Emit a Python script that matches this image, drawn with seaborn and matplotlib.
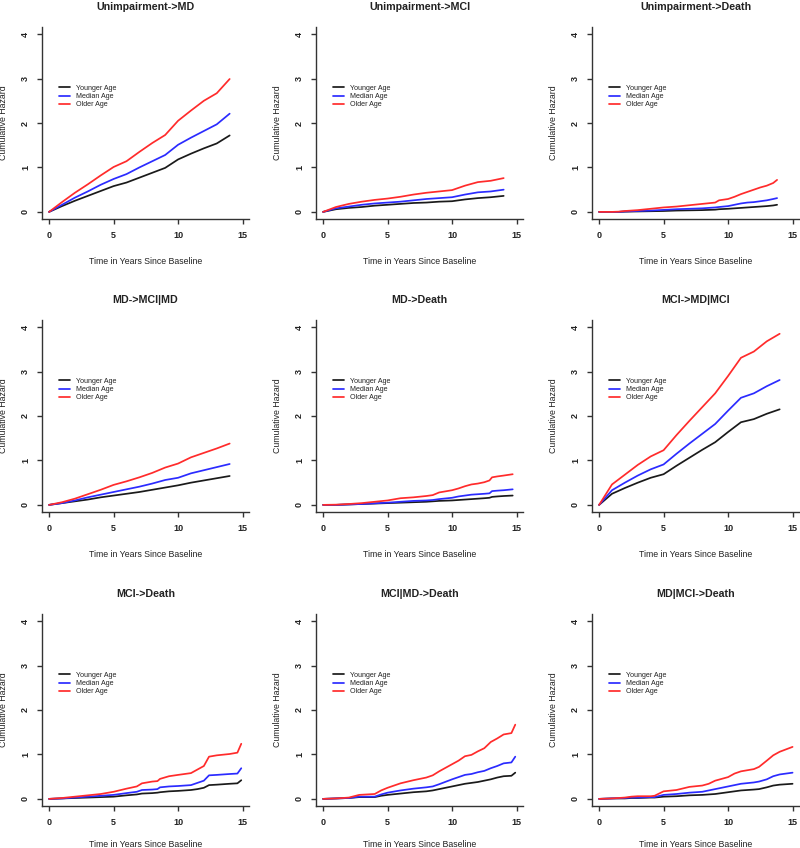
import pandas as pd
import matplotlib
matplotlib.use("Agg")
import matplotlib.pyplot as plt
import seaborn as sns

OUT_PATH = "out.png"

GROUPS = ["Younger Age", "Median Age", "Older Age"]
COLORS = {"Younger Age": "#1a1a1a", "Median Age": "#2b2bff", "Older Age": "#ff2b2b"}

# yearly grid used by the smoother transitions
T_YEARLY = [0, 1, 2, 3, 4, 5, 6, 7, 8, 9, 10, 11, 12, 13, 14]

# Unimpairment -> MD
UMD_YOUNG = [0, 0.13, 0.25, 0.36, 0.47, 0.58, 0.66, 0.77, 0.88, 0.99, 1.18, 1.31, 1.43, 1.54, 1.72]
UMD_MED   = [0, 0.16, 0.32, 0.46, 0.61, 0.74, 0.85, 1.00, 1.14, 1.28, 1.51, 1.67, 1.82, 1.97, 2.21]
UMD_OLD   = [0, 0.22, 0.43, 0.62, 0.82, 1.01, 1.14, 1.35, 1.55, 1.73, 2.05, 2.28, 2.50, 2.67, 2.99]

# Unimpairment -> MCI
UMCI_YOUNG = [0, 0.06, 0.09, 0.11, 0.14, 0.16, 0.18, 0.20, 0.21, 0.23, 0.24, 0.28, 0.31, 0.33, 0.36]
UMCI_MED   = [0, 0.08, 0.12, 0.16, 0.19, 0.21, 0.23, 0.26, 0.29, 0.31, 0.33, 0.39, 0.44, 0.46, 0.50]
UMCI_OLD   = [0, 0.11, 0.18, 0.23, 0.27, 0.30, 0.34, 0.39, 0.43, 0.46, 0.49, 0.59, 0.67, 0.70, 0.76]

# Unimpairment -> Death
T_UDEATH     = [0, 1, 1.5, 2, 3, 4, 5, 6, 7, 8, 9, 9.3, 10, 10.5, 11, 11.5, 12, 12.5, 13, 13.5, 13.8]
UDEATH_YOUNG = [0, 0, 0, 0.005, 0.01, 0.015, 0.02, 0.03, 0.035, 0.04, 0.05, 0.06, 0.07, 0.08, 0.09, 0.10, 0.11, 0.12, 0.13, 0.145, 0.16]
UDEATH_MED   = [0, 0, 0, 0.01, 0.02, 0.03, 0.045, 0.06, 0.07, 0.08, 0.10, 0.11, 0.13, 0.16, 0.19, 0.21, 0.22, 0.24, 0.26, 0.29, 0.31]
UDEATH_OLD   = [0, 0, 0.005, 0.02, 0.04, 0.07, 0.10, 0.12, 0.15, 0.18, 0.21, 0.26, 0.29, 0.34, 0.40, 0.45, 0.50, 0.55, 0.59, 0.65, 0.72]

# MD -> MCI|MD
MDMCI_YOUNG = [0, 0.04, 0.08, 0.12, 0.17, 0.21, 0.25, 0.29, 0.34, 0.39, 0.44, 0.50, 0.55, 0.60, 0.65]
MDMCI_MED   = [0, 0.04, 0.10, 0.17, 0.23, 0.29, 0.35, 0.41, 0.48, 0.56, 0.61, 0.71, 0.78, 0.85, 0.92]
MDMCI_OLD   = [0, 0.06, 0.14, 0.24, 0.34, 0.45, 0.53, 0.62, 0.72, 0.84, 0.93, 1.07, 1.17, 1.27, 1.38]

# MD -> Death
T_MDDEATH     = [0, 1, 2, 3, 4, 5, 6, 7, 8, 8.5, 9, 10, 10.5, 11, 11.5, 12, 12.5, 12.9, 13.1, 13.5, 14, 14.7]
MDDEATH_YOUNG = [0, 0, 0.01, 0.02, 0.03, 0.04, 0.05, 0.06, 0.07, 0.08, 0.09, 0.10, 0.11, 0.12, 0.13, 0.14, 0.15, 0.16, 0.18, 0.19, 0.20, 0.21]
MDDEATH_MED   = [0, 0, 0.01, 0.02, 0.035, 0.05, 0.07, 0.09, 0.10, 0.11, 0.13, 0.16, 0.19, 0.21, 0.23, 0.24, 0.25, 0.26, 0.31, 0.32, 0.33, 0.35]
MDDEATH_OLD   = [0, 0.005, 0.02, 0.04, 0.07, 0.10, 0.15, 0.17, 0.20, 0.22, 0.28, 0.33, 0.37, 0.42, 0.46, 0.48, 0.51, 0.55, 0.62, 0.64, 0.66, 0.69]

# MCI -> MD|MCI
MCIMD_YOUNG = [0, 0.25, 0.38, 0.50, 0.61, 0.69, 0.88, 1.06, 1.24, 1.41, 1.64, 1.86, 1.93, 2.05, 2.15]
MCIMD_MED   = [0, 0.33, 0.50, 0.66, 0.80, 0.91, 1.15, 1.38, 1.60, 1.82, 2.12, 2.41, 2.51, 2.67, 2.81]
MCIMD_OLD   = [0, 0.46, 0.68, 0.90, 1.09, 1.23, 1.57, 1.89, 2.20, 2.51, 2.90, 3.31, 3.45, 3.68, 3.85]

# MCI -> Death
T_MCIDEATH     = [0, 1, 2, 3, 4, 5, 6, 6.8, 7.2, 8, 8.4, 8.6, 9.3, 10, 11, 11.5, 12, 12.4, 13, 14, 14.6, 14.9]
MCIDEATH_YOUNG = [0, 0.01, 0.02, 0.03, 0.04, 0.05, 0.08, 0.10, 0.12, 0.13, 0.14, 0.15, 0.17, 0.18, 0.20, 0.22, 0.25, 0.31, 0.32, 0.34, 0.35, 0.42]
MCIDEATH_MED   = [0, 0.01, 0.03, 0.05, 0.07, 0.09, 0.13, 0.16, 0.20, 0.21, 0.22, 0.26, 0.28, 0.29, 0.31, 0.36, 0.41, 0.53, 0.54, 0.56, 0.57, 0.69]
MCIDEATH_OLD   = [0, 0.02, 0.05, 0.08, 0.11, 0.16, 0.23, 0.28, 0.35, 0.39, 0.40, 0.45, 0.51, 0.54, 0.58, 0.66, 0.74, 0.95, 0.98, 1.01, 1.04, 1.24]

# MCI|MD -> Death
T_MCIMDDEATH     = [0, 1, 2, 2.8, 4, 4.5, 5, 6, 7, 8, 8.5, 9, 10, 10.5, 11, 11.5, 12, 12.5, 13, 13.5, 14, 14.6, 14.9]
MCIMDDEATH_YOUNG = [0, 0.01, 0.02, 0.04, 0.04, 0.07, 0.09, 0.12, 0.15, 0.17, 0.19, 0.22, 0.28, 0.31, 0.34, 0.36, 0.38, 0.41, 0.44, 0.48, 0.51, 0.52, 0.59]
MCIMDDEATH_MED   = [0, 0.01, 0.02, 0.05, 0.05, 0.10, 0.14, 0.19, 0.23, 0.26, 0.28, 0.33, 0.44, 0.49, 0.54, 0.56, 0.60, 0.63, 0.69, 0.74, 0.80, 0.82, 0.95]
MCIMDDEATH_OLD   = [0, 0.01, 0.03, 0.09, 0.11, 0.19, 0.25, 0.35, 0.42, 0.48, 0.53, 0.62, 0.78, 0.86, 0.96, 0.99, 1.07, 1.14, 1.28, 1.36, 1.45, 1.48, 1.67]

# MD|MCI -> Death
T_MDMCIDEATH     = [0, 1, 2, 2.5, 3, 4, 4.3, 5, 6, 7, 8, 8.5, 9, 10, 10.5, 11, 12, 12.4, 13, 13.5, 14, 15]
MDMCIDEATH_YOUNG = [0, 0.01, 0.01, 0.02, 0.02, 0.03, 0.03, 0.05, 0.06, 0.08, 0.09, 0.10, 0.11, 0.15, 0.17, 0.19, 0.21, 0.22, 0.26, 0.30, 0.32, 0.34]
MDMCIDEATH_MED   = [0, 0.01, 0.02, 0.03, 0.03, 0.04, 0.04, 0.09, 0.11, 0.14, 0.16, 0.19, 0.22, 0.28, 0.31, 0.34, 0.37, 0.39, 0.44, 0.51, 0.55, 0.59]
MDMCIDEATH_OLD   = [0, 0.01, 0.03, 0.05, 0.06, 0.06, 0.07, 0.17, 0.20, 0.27, 0.30, 0.34, 0.41, 0.49, 0.57, 0.62, 0.67, 0.72, 0.86, 0.98, 1.06, 1.17]

PANELS = [
    ("Unimpairment->MD",    T_YEARLY,     UMD_YOUNG,        UMD_MED,        UMD_OLD),
    ("Unimpairment->MCI",   T_YEARLY,     UMCI_YOUNG,       UMCI_MED,       UMCI_OLD),
    ("Unimpairment->Death", T_UDEATH,     UDEATH_YOUNG,     UDEATH_MED,     UDEATH_OLD),
    ("MD->MCI|MD",          T_YEARLY,     MDMCI_YOUNG,      MDMCI_MED,      MDMCI_OLD),
    ("MD->Death",           T_MDDEATH,    MDDEATH_YOUNG,    MDDEATH_MED,    MDDEATH_OLD),
    ("MCI->MD|MCI",         T_YEARLY,     MCIMD_YOUNG,      MCIMD_MED,      MCIMD_OLD),
    ("MCI->Death",          T_MCIDEATH,   MCIDEATH_YOUNG,   MCIDEATH_MED,   MCIDEATH_OLD),
    ("MCI|MD->Death",       T_MCIMDDEATH, MCIMDDEATH_YOUNG, MCIMDDEATH_MED, MCIMDDEATH_OLD),
    ("MD|MCI->Death",       T_MDMCIDEATH, MDMCIDEATH_YOUNG, MDMCIDEATH_MED, MDMCIDEATH_OLD),
]

sns.set_style("ticks")
plt.rcParams["font.family"] = ["Liberation Sans", "DejaVu Sans"]

TEXT = "#222222"
AXIS = "#333333"

fig = plt.figure(figsize=(8.0, 8.48), dpi=100)

col_left = [42 / 800, 316 / 800, 592 / 800]
row_bottom = [1 - 219 / 848, 1 - 512 / 848, 1 - 806 / 848]
ax_w, ax_h = 207 / 800, 192 / 848

for i, (title, t, young, med, old) in enumerate(PANELS):
    r, c = divmod(i, 3)
    ax = fig.add_axes([col_left[c], row_bottom[r], ax_w, ax_h])

    df = pd.concat([
        pd.DataFrame({"t": t, "H": vals, "group": g})
        for g, vals in zip(GROUPS, [young, med, old])
    ])
    sns.lineplot(data=df, x="t", y="H", hue="group", hue_order=GROUPS,
                 palette=COLORS, estimator=None, sort=False, lw=1.25, ax=ax)

    ax.set_xlim(-0.55, 15.5)
    ax.set_ylim(-0.16, 4.16)
    ax.set_xticks([0, 5, 10, 15])
    ax.set_yticks([0, 1, 2, 3, 4])
    sns.despine(ax=ax)
    for side in ["left", "bottom"]:
        ax.spines[side].set_color(AXIS)
        ax.spines[side].set_linewidth(1.0)

    ax.tick_params(axis="both", length=3.6, width=1.0, color=AXIS,
                   labelsize=6.5, labelcolor=TEXT, pad=5)
    for lab in ax.get_xticklabels():
        lab.set_fontweight("bold")
    for lab in ax.get_yticklabels():
        lab.set_fontweight("bold")
        lab.set_rotation(90)
        lab.set_va("center")

    ax.set_title(title, fontsize=7.7, fontweight="bold", color=TEXT, pad=12)
    ax.set_xlabel("Time in Years Since Baseline", fontsize=6.3, color=TEXT)
    ax.set_ylabel("Cumulative Hazard", fontsize=6.3, color=TEXT)
    # bottom row label sits a bit higher so it stays inside the figure
    ax.xaxis.set_label_coords(0.5, -0.2 if r < 2 else -0.175)
    ax.yaxis.set_label_coords(-0.165, 0.5)

    ax.legend(loc="upper left", bbox_to_anchor=(0.08, 0.70), frameon=False,
              fontsize=5.1, handlelength=1.6, handletextpad=0.8,
              labelspacing=0.2, borderaxespad=0, borderpad=0,
              labelcolor=TEXT)

plt.savefig(OUT_PATH, dpi=100)
plt.close()
